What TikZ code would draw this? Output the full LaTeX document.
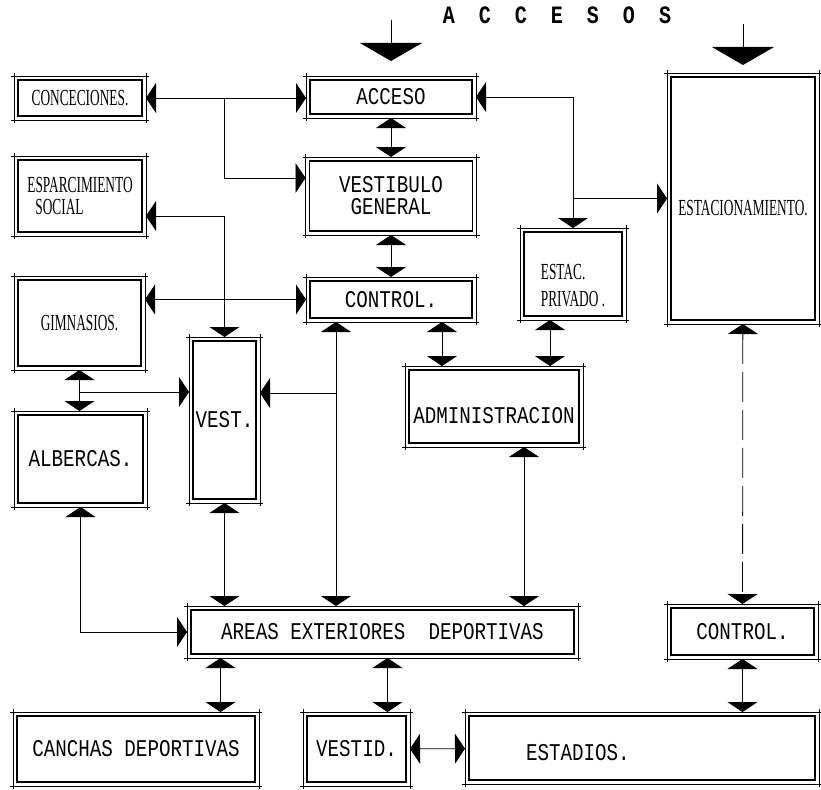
\documentclass[tikz,border=0pt]{standalone}
\usepackage{fontspec}
\usepackage{tikz}
\usetikzlibrary{arrows.meta, calc}
\newfontfamily\typew[FakeStretch=0.8]{Liberation Mono}
\newfontfamily\condfont[FakeStretch=0.58]{Liberation Serif}

\tikzstyle{room} = [
  rectangle, draw, line width=1.8pt, inner sep=0pt, outer sep=4pt,
  font=\typew\fontsize{24}{22}\selectfont
]
\tikzstyle{condtext} = [font=\condfont\fontsize{23}{22}\selectfont]
\tikzstyle{outerline} = [line width=0.7pt, shorten <=-3pt, shorten >=-3pt]
\tikzstyle{arrow} = [-{Triangle[length=10pt, width=30pt]}, line width=0.8pt]
\tikzstyle{biarrow} = [{Triangle[length=10pt, width=30pt]}-{Triangle[length=10pt, width=30pt]}, line width=0.8pt]
\tikzstyle{entry} = [-{Triangle[length=18pt, width=62pt]}, line width=1pt]
\tikzstyle{dashline} = [dash pattern=on 30pt off 8pt]

\begin{document}
\begin{tikzpicture}[x=1pt, y=-1pt]
  \useasboundingbox (0,0) rectangle (821,789);

  % header
  \node[font=\typew\bfseries\fontsize{25}{24}\selectfont] (accesos) at (557,15) {A~~C~~C~~E~~S~~O~~S};

  % left column
  \node[room, condtext, minimum width=124, minimum height=36] (conc) at (80,98) {CONCECIONES.};
  \node[room, condtext, align=left, minimum width=124, minimum height=72] (espar) at (80,196) {ESPARCIMIENTO\\\hspace*{8pt}SOCIAL};
  \node[room, condtext, minimum width=123, minimum height=86] (gimn) at (79.5,323) {GIMNASIOS.};
  \node[room, minimum width=125, minimum height=88] (alberc) at (80.5,459) {ALBERCAS.};
  \node[room, minimum width=63, minimum height=158] (vest) at (224.5,420) {VEST.};

  % middle column
  \node[room, minimum width=162, minimum height=34] (acceso) at (391,97) {ACCESO};
  \node[room, align=center, minimum width=163, minimum height=70] (vestib) at (391,196) {VESTIBULO\\GENERAL};
  \node[room, minimum width=162, minimum height=37] (control) at (391,299.5) {CONTROL.};
  \node[room, condtext, minimum width=98, minimum height=84] (estac) at (573,274)
    {\raisebox{-32pt}[0pt][0pt]{\shortstack[l]{ESTAC.\\[8pt]PRIVADO .}}};
  \node[room, minimum width=170, minimum height=73] (admin) at (494,406.5)
    {\raisebox{-17pt}[0pt][0pt]{ADMINISTRACION}};

  % right column
  \node[room, condtext, minimum width=144, minimum height=243] (estacion) at (743,198.5)
    {\raisebox{-17pt}[0pt][0pt]{ESTACIONAMIENTO.}};
  \node[room, minimum width=143, minimum height=47] (control2) at (742.5,631.5) {CONTROL.};

  % bottom
  \node[room, minimum width=383, minimum height=44] (areas) at (382.5,632) {AREAS EXTERIORES~~DEPORTIVAS};
  \node[room, minimum width=238, minimum height=66] (canchas) at (136,749) {CANCHAS DEPORTIVAS};
  \node[room, minimum width=99, minimum height=66] (vestid) at (356.5,749) {VESTID.};
  \node[room, minimum width=346, minimum height=64] (estadios) at (642,748) {\raisebox{-12pt}[0pt][0pt]{\makebox[232pt][l]{ESTADIOS.}}};

  % outer frame lines
  \foreach \n in {conc,espar,gimn,alberc,vest,acceso,vestib,control,estac,admin,estacion,control2,areas,canchas,vestid,estadios}{
    \draw[outerline] (\n.north west) -- (\n.north east);
    \draw[outerline] (\n.south west) -- (\n.south east);
    \draw[outerline] (\n.north west) -- (\n.south west);
    \draw[outerline] (\n.north east) -- (\n.south east);
  }

  % entries
  \coordinate (inA) at (391,20);
  \coordinate (inB) at (743,24);
  \draw[entry, shorten >=15pt] (inA) -- (acceso);
  \draw[entry, shorten >=8pt] (inB) -- (estacion);

  % connections
  \draw[biarrow] (conc.east) -- (conc.east -| acceso.west);
  \draw[arrow] (conc.east -| vest.north) |- ([yshift=18pt]vestib.west);
  \draw[biarrow] ([yshift=-20pt]espar.east) -| (vest.north);
  \draw[biarrow] (acceso) -- (vestib);
  \draw[biarrow] (vestib) -- (control);
  \draw[biarrow] (control.west) -- (control.west -| gimn.east);
  \draw[biarrow] (gimn.south) -- (gimn.south |- alberc.north);
  \draw[arrow] ([yshift=28pt]vest.west -| gimn.south) -- ([yshift=28pt]vest.west);
  \coordinate (ctl) at ([xshift=-55pt]control.south);
  \draw[biarrow] (ctl) -- (ctl |- areas.north);
  \draw[arrow] ([yshift=27pt]vest.east -| ctl) -- ([yshift=27pt]vest.east);
  \draw[biarrow] ([xshift=51pt]control.south) -- ([xshift=51pt]control.south |- admin.north);
  \draw[biarrow] ([xshift=-23pt]estac.south) -- ([xshift=-23pt]estac.south |- admin.north);
  \draw[biarrow] (acceso.east) -| (estac.north);
  \draw[arrow] (estac.north |- estacion.west) -- (estacion.west);
  \draw[biarrow] ([xshift=30pt]admin.south) -- ([xshift=30pt]admin.south |- areas.north);
  \draw[biarrow, dashline] (estacion) -- (control2);
  \draw[biarrow] (alberc.south) |- (areas.west);
  \draw[biarrow] (vest.south) -- (vest.south |- areas.north);
  \draw[biarrow] ([xshift=-4pt]vest.south |- areas.south) -- ([xshift=-4pt]vest.south |- canchas.north);
  \draw[biarrow] ([xshift=31pt]vestid.north |- areas.south) -- ([xshift=31pt]vestid.north);
  \draw[biarrow] (vestid) -- (estadios);
  \draw[biarrow] (control2.south) -- (control2.south |- estadios.north);

\end{tikzpicture}
\end{document}
